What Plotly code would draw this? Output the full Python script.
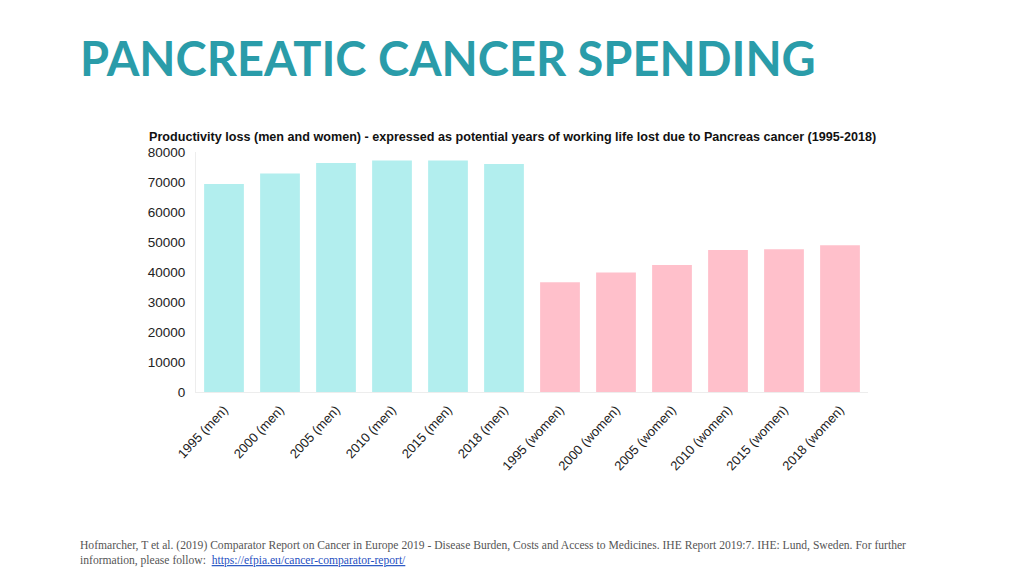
import plotly.graph_objects as go

categories = ["1995 (men)", "2000 (men)", "2005 (men)", "2010 (men)", "2015 (men)", "2018 (men)",
              "1995 (women)", "2000 (women)", "2005 (women)", "2010 (women)", "2015 (women)", "2018 (women)"]
values = [69300, 72800, 76300, 77200, 77200, 76000,
          36600, 39800, 42300, 47300, 47600, 48900]
bar_colors = ["#B2EEEE"] * 6 + ["#FFC0CB"] * 6
y_ticks = [0, 10000, 20000, 30000, 40000, 50000, 60000, 70000, 80000]

OFF = 8  # page offset applied by the browser
L, R, T, B = 196 - OFF, 868 - OFF, 152 - OFF, 392 - OFF
W, H = 1024, 576


def px(x):
    return (x - OFF - L) / (R - L)


def py(y):
    return (B - (y - OFF)) / (B - T)


fig = go.Figure(go.Bar(x=categories, y=values, marker=dict(color=bar_colors, line=dict(width=0))))

fig.update_layout(
    width=W, height=H,
    margin=dict(l=L, r=W - R, t=T, b=H - B, pad=0),
    paper_bgcolor="white", plot_bgcolor="white",
    bargap=0.29,
    showlegend=False,
    font=dict(family="Liberation Sans, Arial, sans-serif", color="#222"),
)
fig.update_xaxes(
    tickangle=-47, tickfont=dict(size=13, color="#222"),
    showline=True, linecolor="#EDEDED", linewidth=1,
    showgrid=False, ticks="", ticklabelstandoff=4,
)
fig.update_yaxes(
    range=[0, 80000], tickvals=y_ticks, ticktext=[str(v) for v in y_ticks],
    tickfont=dict(size=13.5, color="#222"),
    showline=True, linecolor="#EDEDED", linewidth=1,
    showgrid=False, zeroline=False, ticks="", ticklabelstandoff=7,
)

fig.add_annotation(
    text="<b>PANCREATIC CANCER SPENDING</b>", xref="paper", yref="paper",
    x=px(78), y=py(58), xanchor="left", yanchor="middle", showarrow=False,
    font=dict(family="Lato, sans-serif", size=47, color="#2A9CA9"),
)
fig.add_annotation(
    text="<b>Productivity loss (men and women) - expressed as potential years of working life lost due to Pancreas cancer (1995-2018)</b>",
    xref="paper", yref="paper",
    x=px(147), y=py(137), xanchor="left", yanchor="middle", showarrow=False,
    font=dict(family="Liberation Sans, Arial, sans-serif", size=12.6, color="#111"),
)
fig.add_annotation(
    text=("Hofmarcher, T et al. (2019) Comparator Report on Cancer in Europe 2019 - Disease Burden, Costs and Access to Medicines. IHE Report 2019:7. IHE: Lund, Sweden. For further<br>"
          "information, please follow:  <a href='https://efpia.eu/cancer-comparator-report/' style='color:#1F4FC1;text-decoration:underline'>https://efpia.eu/cancer-comparator-report/</a>"),
    xref="paper", yref="paper",
    x=px(78), y=py(537), xanchor="left", yanchor="top", align="left", showarrow=False,
    font=dict(family="Liberation Serif, serif", size=11.6, color="#555"),
)

fig.write_html("out.html")
